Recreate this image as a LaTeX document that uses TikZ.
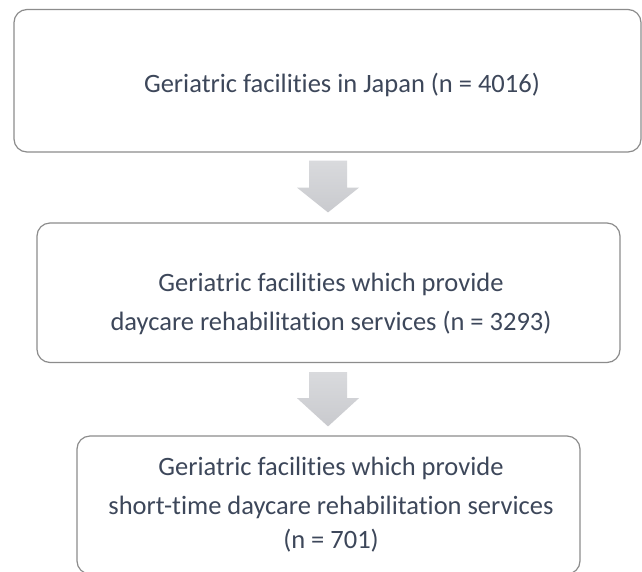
\documentclass[tikz,border=0pt]{standalone}
\usepackage{fontspec}
\setmainfont{Carlito}[Ligatures={NoCommon}]
\usetikzlibrary{calc}
\definecolor{boxline}{HTML}{8C8C8C}
\definecolor{txt}{HTML}{3D475A}
\definecolor{arrtop}{HTML}{D9DADD}
\definecolor{arrbot}{HTML}{C9CACE}
\begin{document}
\begin{tikzpicture}[x=1pt,y=-1pt,
  flowbox/.style={draw=boxline, line width=1.2pt, rounded corners=13pt, fill=white, inner sep=0pt},
  flowtext/.style={text=txt, align=center, font=\fontsize{26.5}{39}\selectfont, inner sep=0pt},
  blockarrow/.style={top color=arrtop, bottom color=arrbot, draw=none}]
\useasboundingbox (0,0) rectangle (642,571);
\fill[white] (0,0) rectangle (642,571);
\node[flowbox, minimum width=627pt, minimum height=142.5pt] (b1) at (327.5,80.75) {};
\node[flowbox, minimum width=583pt, minimum height=139.5pt] (b2) at (328.5,292.75) {};
\node[flowbox, minimum width=503pt, minimum height=138pt] (b3) at (328.5,505) {};
\node[flowtext] (t1) at (342,85) {Geriatric facilities in Japan (n = 4016)};
\node[flowtext] (t2) at (331,303.5) {Geriatric facilities which provide\\daycare rehabilitation services (n = 3293)};
\node[flowtext] (t3) at (331,505) {Geriatric facilities which provide\\short-time daycare rehabilitation services\\[-5pt](n = 701)};
% arrow 1
\path[blockarrow] ($(b1.south)+(0.5,8)$) coordinate (a1s)
  ($(a1s)+(-19,0)$) -- ($(a1s)+(19,0)$) -- ($(a1s)+(19,27)$) -- ($(a1s)+(31,27)$)
  -- ($(b2.north)+(-0.5,-10)$) -- ($(a1s)+(-31,27)$) -- ($(a1s)+(-19,27)$) -- cycle;
% arrow 2
\path[blockarrow] ($(b2.south)+(-0.5,9)$) coordinate (a2s)
  ($(a2s)+(-19,0)$) -- ($(a2s)+(19,0)$) -- ($(a2s)+(19,26)$) -- ($(a2s)+(31,26)$)
  -- ($(b3.north)+(-0.5,-9)$) -- ($(a2s)+(-31,26)$) -- ($(a2s)+(-19,26)$) -- cycle;
\end{tikzpicture}
\end{document}
